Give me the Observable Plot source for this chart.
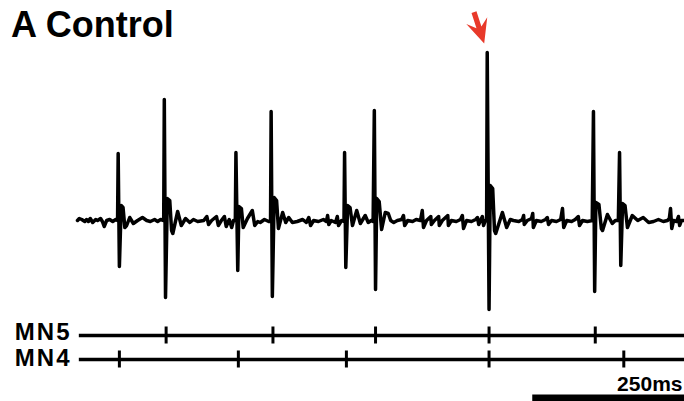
<!DOCTYPE html>
<html>
<head>
<meta charset="utf-8">
<script src="https://cdn.jsdelivr.net/npm/d3@7"></script>
<script src="https://cdn.jsdelivr.net/npm/@observablehq/plot@0.6"></script>
<style>
  html, body { margin: 0; padding: 0; background: #fff; }
  #fig { position: relative; width: 684px; height: 401px; overflow: hidden; font-family: "Liberation Sans", Arial, sans-serif; }
  #fig > * { position: absolute; left: 0; }
  #title { left: 11px; top: 7px; font-size: 36px; line-height: 36px; font-weight: bold; color: #000; white-space: nowrap; }
</style>
</head>
<body>
<div id="fig"><div id="title">A Control</div></div>
<script>
// Extracellular recording, 1 s sweep: [time (ms), potential (µV)]
const trace = [
  [0,0],[3,20],[7,10],[12,-10],[15,10],[18,-10],[21,20],[25,-20],[30,10],[33,0],[38,20],[41,-10],[44,-60],[48,0],[53,10],[58,-10],[63,10],[66,0],
  [67,670],[69,-460],[72,150],[75,130],[78,-70],[81,-50],[86,30],[92,-30],[99,0],[107,30],[114,0],[120,-10],[127,10],[132,-10],[137,10],[142,0],
  [143,1210],[145,-770],[148,220],[152,200],[155,-100],[157,-130],[165,90],[171,-50],[178,20],[185,-20],[191,10],[198,-10],[208,0],[213,40],[216,-40],[221,0],[229,40],[232,-50],[237,0],[242,40],[245,-60],[250,10],[254,-70],[257,0],[260,0],
  [261,680],[264,-500],[266,140],[270,120],[273,-70],[280,20],[288,100],[292,-50],[297,-10],[301,-20],[308,10],[315,-10],[318,-10],
  [319,1090],[321,-760],[324,230],[328,200],[331,-80],[338,80],[343,-20],[348,30],[354,-20],[362,-10],[371,10],[377,-20],[381,30],[384,-50],[389,0],[397,-10],[405,10],[410,-10],[412,50],[414,-40],[418,0],[425,-20],[428,40],[430,-50],[435,0],[439,-10],
  [440,680],[442,-470],[445,150],[449,130],[453,-50],[460,100],[466,-30],[474,50],[479,-20],[484,0],[487,-10],
  [489,1100],[491,-690],[493,220],[497,190],[501,-90],[507,80],[512,70],[516,0],[521,-20],[527,0],[534,10],[537,50],[539,-50],[544,0],[552,-10],[558,10],[565,0],[568,100],[570,-70],[575,0],[582,40],[583,-40],[588,0],[595,40],[596,-50],[601,0],[610,50],[611,-50],[616,0],[624,-10],[631,10],[634,50],[636,-80],[641,0],[649,-10],[656,10],[659,30],[661,-40],[664,0],[667,40],[669,-50],[672,0],[674,0],
  [675,1680],[678,-890],[680,350],[684,320],[687,-100],[689,-130],[700,80],[707,-70],[713,10],[718,0],[727,-10],[733,10],[735,50],[736,-40],[741,0],[748,20],[750,70],[751,-70],[756,0],[764,-10],[771,10],[774,30],[776,-40],[781,0],[789,-10],[796,10],[799,120],[801,-70],[806,0],[814,-10],[820,10],[825,40],[827,-50],[832,0],[840,-10],[848,0],
  [850,1090],[852,-710],[854,180],[859,160],[863,-80],[865,-100],[873,60],[881,-30],[886,0],[891,0],
  [893,680],[895,-450],[898,170],[902,150],[906,-70],[914,50],[923,0],[932,30],[941,-20],[949,-10],[957,10],[965,-10],[972,0],[975,20],[977,120],[979,-80],[982,0],[987,-10],[990,40],[992,-50],[995,0],[1000,0]
];

// Spike times sorted by motor neuron (ms)
const units = ["MN5", "MN4"];
const mn5Times = [146, 322, 491, 678, 853];
const mn4Times = [69, 265, 443, 678, 900];

// Marker over the largest (coincident) spike
const markerAt = [{t: 670, uv: 1770}];

// Scale bar length (ms)
const scaleBarMs = 250;
const sweepMs = 1000;

const font = '"Liberation Sans", Arial, sans-serif';
const common = {
  width: 684, marginLeft: 77, marginRight: 0, marginTop: 0, marginBottom: 0,
  x: {domain: [0, sweepMs], axis: null},
  style: {background: "none", fontFamily: font, color: "#000", overflow: "visible"}
};

// Filled, notched arrow pointing along the vector
const notchedArrow = {
  draw(ctx, l) {
    const head = 24, half = 11, notch = 17, shaft = 2.6;
    ctx.moveTo(0, -l);
    ctx.lineTo(half, -l + head);
    ctx.lineTo(shaft, -l + notch);
    ctx.lineTo(shaft, 0);
    ctx.lineTo(-shaft, 0);
    ctx.lineTo(-shaft, -l + notch);
    ctx.lineTo(-half, -l + head);
    ctx.closePath();
  }
};

const tracePlot = Plot.plot({
  ...common,
  height: 320,
  y: {domain: [-1000, 2200], axis: null},
  marks: [
    Plot.line(trace, {x: d => d[0], y: d => d[1], stroke: "#000", strokeWidth: 3.5, strokeLinejoin: "round"}),
    Plot.vector(markerAt, {x: "t", y: "uv", length: 33, rotate: 162, anchor: "end", shape: notchedArrow, fill: "#e8392a", stroke: "none"})
  ]
});
tracePlot.style.top = "0px";

const spikes = [
  ...mn5Times.map(t => ({unit: "MN5", t})),
  ...mn4Times.map(t => ({unit: "MN4", t}))
];

const labelStyle = {tickSize: 0, tickPadding: 6, fontSize: 24, fontWeight: "bold", label: null};

const rasterPlot = Plot.plot({
  ...common,
  height: 55,
  y: {type: "band", domain: units, range: [4, 53], padding: 0, label: null},
  marks: [
    Plot.ruleY(units, {y: d => d, x1: 3, x2: sweepMs, stroke: "#000", strokeWidth: 3.5}),
    Plot.tickX(spikes, {x: "t", y: "unit", stroke: "#000", strokeWidth: 3, insetTop: 3.5, insetBottom: 3.5}),
    Plot.axisY({...labelStyle, ticks: ["MN5"], dy: -3}),
    Plot.axisY({...labelStyle, ticks: ["MN4"], dy: -1})
  ]
});
rasterPlot.style.top = "318px";
rasterPlot.querySelectorAll("text").forEach(t => t.style.letterSpacing = "2px");

const barPlot = Plot.plot({
  ...common,
  height: 33,
  y: {domain: [0, 1], range: [29.5, 0], axis: null},
  marks: [
    Plot.ruleY([0], {x1: sweepMs - scaleBarMs, x2: sweepMs, stroke: "#000", strokeWidth: 7}),
    Plot.text([`${scaleBarMs}ms`], {x: sweepMs, y: 0, dy: -6.8, dx: -2, text: d => d, textAnchor: "end", lineAnchor: "bottom", fontSize: 21, fontWeight: "bold", fill: "#000"})
  ]
});
barPlot.style.top = "368px";

const fig = document.getElementById("fig");
fig.insertBefore(barPlot, fig.firstChild);
fig.insertBefore(rasterPlot, fig.firstChild);
fig.insertBefore(tracePlot, fig.firstChild);
</script>
</body>
</html>
